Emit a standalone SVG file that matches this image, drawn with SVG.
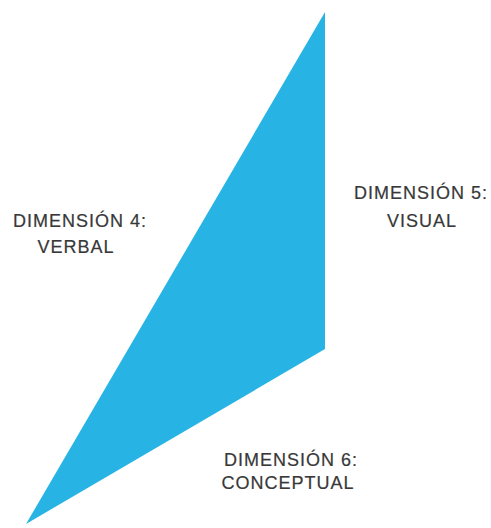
<svg xmlns="http://www.w3.org/2000/svg" width="491" height="528" viewBox="0 0 491 528">
<style>
.lbl{font-family:"Liberation Sans",Arial,sans-serif;font-size:18px;fill:#383838;text-anchor:middle;letter-spacing:1px;stroke:#383838;stroke-width:0.2px}
</style>
<rect width="491" height="528" fill="#ffffff"/>
<g id="triangle">
<polygon points="325,12 325,349 26,524" fill="#27b4e4"/>
</g>
<g id="connectors"></g>
<g id="dim4">
<text class="lbl" x="80" y="227">DIMENSIÓN 4:</text>
<text class="lbl" x="76" y="253">VERBAL</text>
</g>
<g id="dim5">
<text class="lbl" x="421" y="199">DIMENSIÓN 5:</text>
<text class="lbl" x="422" y="227">VISUAL</text>
</g>
<g id="dim6">
<text class="lbl" x="291" y="466">DIMENSIÓN 6:</text>
<text class="lbl" x="288" y="489">CONCEPTUAL</text>
</g>
</svg>
